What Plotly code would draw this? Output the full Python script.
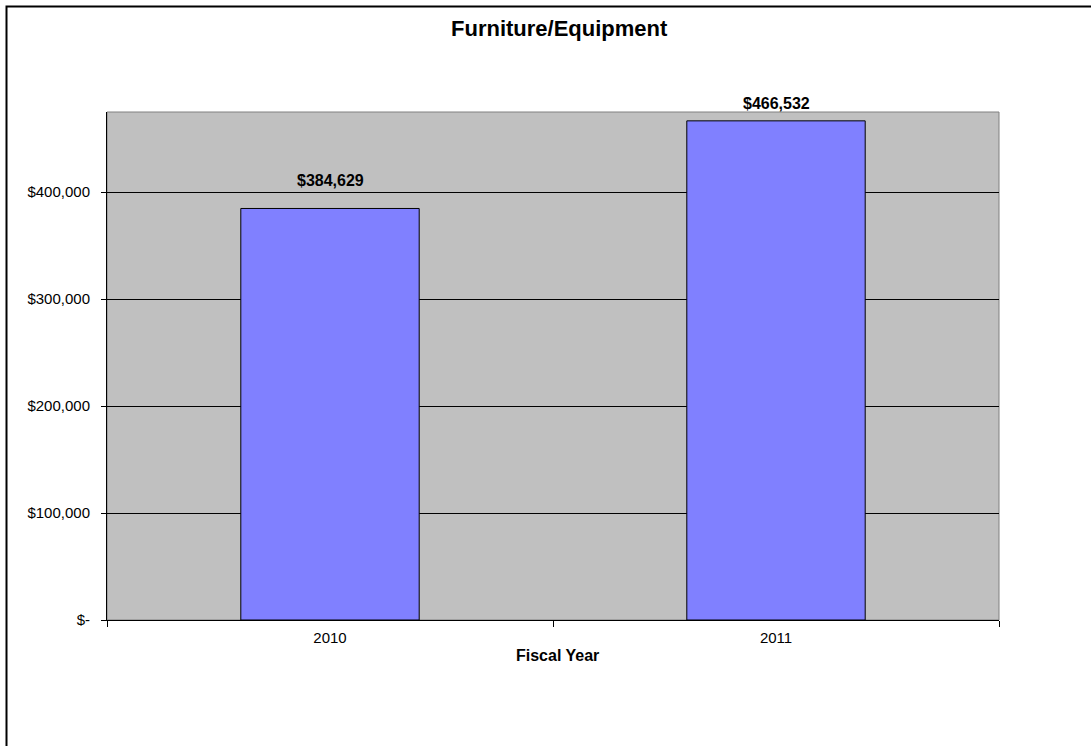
import plotly.graph_objects as go

years = ["2010", "2011"]
values = [384629, 466532]
value_labels = ["$384,629", "$466,532"]
ytick_vals = [0, 100000, 200000, 300000, 400000]
ytick_text = ["$-", "$100,000", "$200,000", "$300,000", "$400,000"]

W, H = 1091, 746
L, T = 107, 112
R = W - 999
B = H - 620
ph = H - T - B
pw = W - L - R

def py(p):
    return (H - B - p) / ph

def px(p):
    return (p - L) / pw

FONT = "Liberation Sans, Arial, sans-serif"
label_shifts = [17, 7]

fig = go.Figure()
fig.add_trace(go.Bar(
    x=years, y=values,
    width=0.4,
    marker=dict(color="#8080FF", line=dict(color="black", width=1)),
    hoverinfo="skip",
))

annotations = []
for i, (v, t) in enumerate(zip(values, value_labels)):
    annotations.append(dict(x=i, y=v, xref="x", yref="y", text="<b>" + t + "</b>",
                            showarrow=False, yanchor="bottom", yshift=label_shifts[i],
                            font=dict(family=FONT, size=16, color="black")))
annotations.append(dict(x=px(559), y=py(28), xref="paper", yref="paper",
                        text="<b>Furniture/Equipment</b>", showarrow=False,
                        xanchor="center", yanchor="middle",
                        font=dict(family=FONT, size=22, color="black")))
annotations.append(dict(x=px(557), y=py(655), xref="paper", yref="paper",
                        text="<b>Fiscal Year</b>", showarrow=False,
                        xanchor="center", yanchor="middle",
                        font=dict(family=FONT, size=16, color="black")))

shapes = [
    dict(type="rect", xref="paper", yref="paper", x0=0, x1=1, y0=0, y1=1,
         line=dict(color="#808080", width=1), layer="below"),
    dict(type="rect", xref="paper", yref="paper",
         x0=px(6.5), x1=px(1300),
         y0=py(1000), y1=py(6.5),
         line=dict(color="black", width=2)),
]

fig.update_layout(
    width=W, height=H,
    margin=dict(l=L, r=R, t=T, b=B, pad=0),
    paper_bgcolor="white",
    plot_bgcolor="#C0C0C0",
    showlegend=False,
    font=dict(family=FONT, size=15, color="black"),
    annotations=annotations,
    shapes=shapes,
    xaxis=dict(
        type="category",
        range=[-0.5, 1.5],
        showline=True, linecolor="black", linewidth=1,
        ticks="outside", tickson="boundaries", ticklen=6, tickcolor="black",
        showgrid=False,
        tickfont=dict(family=FONT, size=15, color="black"),
        ticklabelstandoff=4,
        fixedrange=True,
    ),
    yaxis=dict(
        range=[0, 474800],
        tickvals=ytick_vals, ticktext=ytick_text,
        showline=True, linecolor="black", linewidth=1,
        ticks="outside", ticklen=5, tickcolor="black",
        showgrid=True, gridcolor="black", gridwidth=1,
        zeroline=False,
        tickfont=dict(family=FONT, size=15, color="black"),
        ticklabelstandoff=8,
        fixedrange=True,
    ),
)

fig.write_html("out.html", config={"displayModeBar": False, "staticPlot": True},
               post_script="document.body.style.margin='0';document.body.style.overflow='hidden';")
